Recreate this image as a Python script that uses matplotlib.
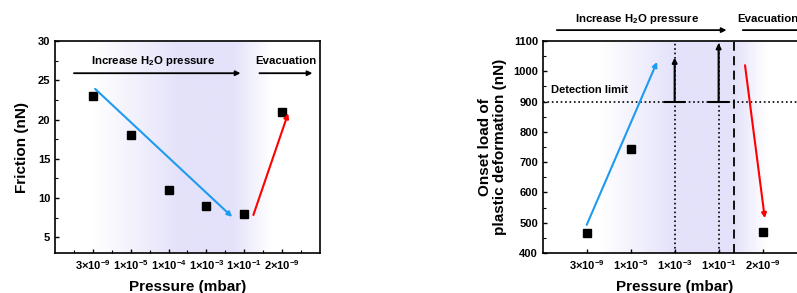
import numpy as np
import matplotlib
matplotlib.use('Agg')
import matplotlib.pyplot as plt
from matplotlib.colors import LinearSegmentedColormap

plt.rcParams['font.family'] = ['Liberation Sans', 'DejaVu Sans']
plt.rcParams['font.weight'] = 'bold'
plt.rcParams['axes.labelweight'] = 'bold'
plt.rcParams['mathtext.fontset'] = 'custom'
plt.rcParams['mathtext.rm'] = 'Liberation Sans:bold'
plt.rcParams['mathtext.it'] = 'Liberation Sans:bold'
plt.rcParams['mathtext.bf'] = 'Liberation Sans:bold'
plt.rcParams['mathtext.default'] = 'rm'

# 左图：摩擦力
friction_labels = [r'3×10$^{-9}$', r'1×10$^{-5}$', r'1×10$^{-4}$', r'1×10$^{-3}$', r'1×10$^{-1}$', r'2×10$^{-9}$']
friction_pos = [1, 2, 3, 4, 5, 6]
friction = [23, 18, 11, 9, 8, 21]

# 右图：塑性变形起始载荷
onset_labels = [r'3×10$^{-9}$', r'1×10$^{-5}$', r'1×10$^{-3}$', r'1×10$^{-1}$', r'2×10$^{-9}$']
onset_pos = [1, 2, 5]
onset = [465, 745, 470]
limit_pos = [3, 4]          # 超过检测限的点
limit_top = [1045, 1093]
detection_limit = 900

lavender = LinearSegmentedColormap.from_list('lav', ['#ffffff', '#e4e2fa'])


def shade(ax, xs, ws, xlim, ylim):
    # 背景渐变
    gx = np.linspace(xlim[0], xlim[1], 400)
    g = np.interp(gx, xs, ws)[None, :]
    ax.imshow(g, extent=[xlim[0], xlim[1], ylim[0], ylim[1]], aspect='auto',
              cmap=lavender, vmin=0, vmax=1, zorder=0, origin='lower')


def arrow(ax, x0, y0, x1, y1, color='black', lw=1.3):
    ax.annotate('', xy=(x1, y1), xytext=(x0, y0),
                arrowprops=dict(arrowstyle='-|>', color=color, lw=lw,
                                mutation_scale=7, shrinkA=0, shrinkB=0),
                annotation_clip=False)


def style(ax):
    for s in ax.spines.values():
        s.set_linewidth(1.2)
    ax.tick_params(direction='in', length=3, width=1, labelsize=8)
    ax.tick_params(which='minor', direction='in', length=2, width=0.8)


fig = plt.figure(figsize=(7.97, 2.93), dpi=100)

# ---------------- left ----------------
ax1 = fig.add_axes([0.069, 0.1365, 0.3325, 0.7235])
xl1, yl1 = (0, 7), (3, 30)
shade(ax1, [0, 1.0, 3.3, 4.7, 5.7, 7], [0, 0, 1, 1, 0, 0], xl1, yl1)
ax1.set_xlim(*xl1)
ax1.set_ylim(*yl1)
ax1.plot(friction_pos, friction, 's', color='black', ms=6, zorder=3)
arrow(ax1, 1.06, 23.9, 4.68, 7.6, color='#1e9bf0', lw=1.5)
arrow(ax1, 5.24, 7.84, 6.16, 20.8, color='red', lw=1.5)
arrow(ax1, 0.5, 25.9, 4.9, 25.9)
arrow(ax1, 5.4, 25.9, 6.8, 25.9)
ax1.text(2.6, 27.5, 'Increase H$_2$O pressure', ha='center', va='center', fontsize=8.2)
ax1.text(6.1, 27.5, 'Evacuation', ha='center', va='center', fontsize=8.2)
ax1.set_xticks(friction_pos)
ax1.set_xticklabels(friction_labels, fontsize=7)
ax1.set_xticks(np.arange(0.5, 7, 1.0), minor=True)
ax1.set_yticks([5, 10, 15, 20, 25, 30])
ax1.set_yticks(np.arange(7.5, 30, 5), minor=True)
style(ax1)
ax1.set_xlabel('Pressure (mbar)', fontsize=11, labelpad=6)
ax1.set_ylabel('Friction (nN)', fontsize=11, labelpad=6)

# ---------------- right ----------------
ax2 = fig.add_axes([0.681, 0.1365, 0.331, 0.7235])
xl2, yl2 = (0, 6), (400, 1100)
shade(ax2, [0, 1.3, 3.0, 4.35, 5.1, 6], [0, 0, 1, 1, 0, 0], xl2, yl2)
ax2.set_xlim(*xl2)
ax2.set_ylim(*yl2)
ax2.plot(onset_pos, onset, 's', color='black', ms=6, zorder=3)
ax2.axhline(detection_limit, color='black', ls=':', lw=1.2, zorder=1)
for p, t in zip(limit_pos, limit_top):
    ax2.axvline(p, color='black', ls=':', lw=1.2, zorder=1)
    ax2.plot([p - 0.22, p + 0.22], [detection_limit, detection_limit], color='black', lw=1.5, zorder=2)
    arrow(ax2, p, detection_limit, p, t, lw=1.5)
ax2.axvline(4.35, color='black', ls=(0, (5, 3)), lw=1.3, zorder=1)
ax2.text(0.18, 938, 'Detection limit', ha='left', va='center', fontsize=8)
arrow(ax2, 1.0, 493, 2.6, 1031, color='#1e9bf0', lw=1.5)
arrow(ax2, 4.6, 1020, 5.05, 515, color='red', lw=1.5)
arrow(ax2, 0.32, 1136, 4.18, 1136)
arrow(ax2, 4.55, 1136, 6.0, 1136)
ax2.text(2.14, 1173, 'Increase H$_2$O pressure', ha='center', va='center', fontsize=8.2)
ax2.text(4.43, 1173, 'Evacuation', ha='left', va='center', fontsize=8.2)
ax2.set_xticks([1, 2, 3, 4, 5])
ax2.set_xticklabels(onset_labels, fontsize=7)
ax2.set_yticks(np.arange(400, 1101, 100))
ax2.set_yticks(np.arange(450, 1100, 100), minor=True)
style(ax2)
ax2.set_xlabel('Pressure (mbar)', fontsize=11, labelpad=6)
ax2.set_ylabel('Onset load of\nplastic deformation (nN)', fontsize=11, labelpad=4, linespacing=1.1)

fig.savefig('out.png', dpi=100)
